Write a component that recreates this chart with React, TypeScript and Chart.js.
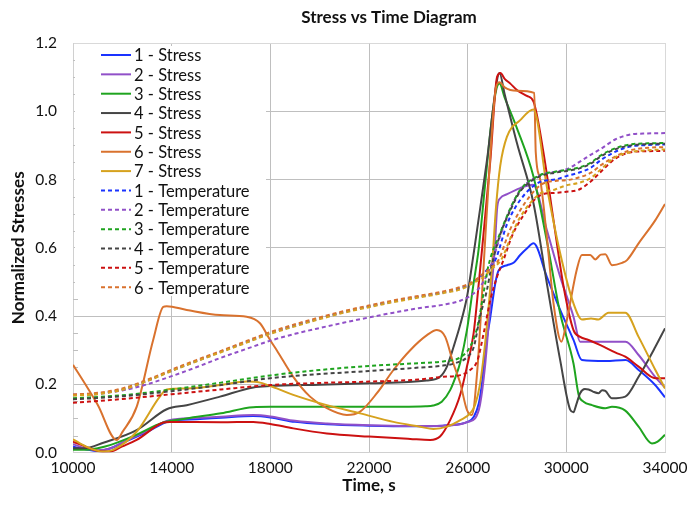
import React, { useEffect, useRef } from 'react';
import { Chart, registerables } from 'chart.js';

Chart.register(...registerables);

const FONT = 'Lato, "Open Sans", sans-serif';

// ---- tick labels ----
const xTicks = [10000, 14000, 18000, 22000, 26000, 30000, 34000];
const yTicks = [0, 0.2, 0.4, 0.6, 0.8, 1.0, 1.2];

// ---- Stress series (time, normalized value) ----
const s1T = [10000, 10500, 11000, 11500, 12000, 13000, 13900, 15000, 16000, 17300, 18000, 19000, 20300, 22000, 23700, 25000, 25700, 26000, 26250, 26450, 26580, 26710, 26920, 27120, 27250, 27600, 27860, 28130, 28400, 28670, 29210, 29750, 30290, 30630, 31600, 32400, 32930, 33600, 34000];
const s1V = [0.017, 0.01, 0.005, 0.012, 0.028, 0.06, 0.092, 0.098, 0.102, 0.107, 0.103, 0.09, 0.083, 0.079, 0.077, 0.079, 0.084, 0.09, 0.105, 0.144, 0.203, 0.3, 0.398, 0.496, 0.533, 0.549, 0.556, 0.579, 0.598, 0.613, 0.515, 0.418, 0.33, 0.271, 0.268, 0.271, 0.242, 0.198, 0.162];

const s2T = [10000, 10500, 11000, 11500, 12000, 13000, 13900, 15000, 16000, 17300, 18000, 19000, 20300, 22000, 23700, 25000, 25700, 26000, 26300, 26500, 26700, 26900, 27100, 27200, 27320, 27600, 28130, 28650, 29210, 29750, 30290, 30560, 31600, 32400, 32930, 33600, 34000];
const s2V = [0.025, 0.012, 0.007, 0.012, 0.03, 0.063, 0.095, 0.101, 0.105, 0.11, 0.106, 0.093, 0.085, 0.08, 0.078, 0.079, 0.083, 0.09, 0.1, 0.14, 0.25, 0.42, 0.6, 0.72, 0.745, 0.757, 0.775, 0.785, 0.652, 0.515, 0.398, 0.325, 0.325, 0.325, 0.286, 0.222, 0.19];

const s3T = [10000, 10500, 11000, 11500, 12500, 13660, 14600, 16000, 17300, 18000, 20000, 22000, 24300, 24600, 24950, 25290, 25560, 25700, 25970, 26240, 26440, 26700, 26950, 27150, 27290, 27500, 28000, 28670, 29210, 29750, 30290, 30500, 30700, 31040, 31580, 31850, 32390, 32930, 33470, 33700, 34000];
const s3V = [0.008, 0.008, 0.013, 0.022, 0.05, 0.088, 0.1, 0.115, 0.133, 0.134, 0.134, 0.134, 0.136, 0.138, 0.149, 0.183, 0.232, 0.265, 0.359, 0.496, 0.593, 0.78, 0.96, 1.06, 1.081, 1.04, 0.95, 0.808, 0.62, 0.408, 0.261, 0.169, 0.149, 0.139, 0.13, 0.134, 0.123, 0.076, 0.027, 0.032, 0.052];

const s4T = [10000, 10500, 11230, 12580, 13800, 14610, 15960, 17310, 18000, 20000, 22000, 24340, 24880, 25160, 25430, 25700, 25970, 26170, 26380, 26780, 27190, 27290, 27500, 28000, 28670, 29210, 29750, 30160, 30290, 30400, 30560, 30750, 30900, 31100, 31310, 31450, 31580, 31850, 32390, 32930, 33610, 34000];
const s4V = [0.013, 0.013, 0.029, 0.066, 0.127, 0.139, 0.164, 0.191, 0.195, 0.199, 0.203, 0.211, 0.222, 0.252, 0.31, 0.375, 0.455, 0.547, 0.652, 0.855, 1.091, 1.112, 1.05, 0.906, 0.73, 0.496, 0.271, 0.125, 0.118, 0.14, 0.174, 0.186, 0.185, 0.178, 0.174, 0.183, 0.181, 0.159, 0.164, 0.222, 0.31, 0.364];

const s5T = [10000, 10500, 11000, 11500, 12000, 12580, 13660, 13930, 16000, 17310, 18000, 18930, 20290, 22000, 23670, 24480, 24880, 25290, 25700, 25970, 26240, 26450, 26580, 26920, 27190, 27330, 27500, 27730, 28000, 28400, 28670, 29080, 29480, 29890, 30290, 30560, 30900, 31380, 32000, 32390, 32930, 33610, 34000];
const s5V = [0.032, 0.018, 0.005, 0.003, 0.018, 0.037, 0.088, 0.09, 0.089, 0.09, 0.084, 0.071, 0.056, 0.047, 0.04, 0.037, 0.047, 0.095, 0.17, 0.252, 0.349, 0.496, 0.593, 0.857, 1.1, 1.112, 1.095, 1.081, 1.062, 1.045, 1.028, 0.876, 0.681, 0.486, 0.359, 0.339, 0.33, 0.315, 0.293, 0.281, 0.252, 0.218, 0.218];

const s6T = [10000, 10500, 11000, 11770, 12000, 12580, 13250, 13660, 13800, 14610, 15960, 17040, 17580, 17990, 18260, 18930, 19610, 20290, 21100, 21640, 22320, 22990, 23670, 24350, 24750, 25090, 25420, 25700, 25970, 26170, 26400, 26650, 26900, 27150, 27300, 27500, 28000, 28700, 28760, 28940, 29210, 29480, 29800, 30020, 30420, 30630, 30970, 31170, 31400, 31580, 31850, 32260, 32460, 32930, 33610, 34000];
const s6V = [0.257, 0.2, 0.14, 0.037, 0.06, 0.134, 0.33, 0.427, 0.429, 0.418, 0.403, 0.398, 0.379, 0.33, 0.3, 0.222, 0.164, 0.13, 0.11, 0.12, 0.174, 0.242, 0.3, 0.344, 0.359, 0.339, 0.261, 0.203, 0.125, 0.11, 0.25, 0.55, 0.85, 1.07, 1.085, 1.07, 1.06, 1.054, 0.88, 0.8, 0.632, 0.437, 0.325, 0.388, 0.535, 0.579, 0.579, 0.566, 0.58, 0.581, 0.549, 0.556, 0.564, 0.613, 0.681, 0.728];

const s7T = [10000, 10550, 11230, 11630, 12580, 13520, 13800, 14610, 15960, 17040, 17580, 18260, 18930, 20290, 21640, 22990, 24070, 24610, 25160, 25700, 26100, 26300, 26500, 26750, 27000, 27150, 27320, 27590, 28130, 28670, 29210, 29750, 30290, 30630, 31000, 31300, 31710, 32390, 32930, 33610, 34000];
const s7V = [0.039, 0.017, 0.003, 0.008, 0.061, 0.164, 0.185, 0.188, 0.198, 0.208, 0.205, 0.188, 0.169, 0.139, 0.115, 0.09, 0.076, 0.069, 0.076, 0.095, 0.115, 0.14, 0.2, 0.35, 0.56, 0.72, 0.84, 0.925, 0.974, 1.005, 0.779, 0.584, 0.437, 0.39, 0.393, 0.39, 0.41, 0.41, 0.339, 0.242, 0.188];

// ---- Temperature series ----
const t1T = [10000, 11000, 12000, 13000, 14000, 15000, 16000, 17000, 18000, 19000, 20000, 21000, 22000, 23000, 24000, 25000, 25700, 26240, 26650, 26900, 27120, 27600, 28130, 28940, 29550, 30000, 30500, 31000, 31400, 32000, 32600, 33300, 34000];
const t1V = [0.168, 0.172, 0.185, 0.21, 0.24, 0.268, 0.296, 0.323, 0.35, 0.372, 0.393, 0.412, 0.428, 0.443, 0.456, 0.469, 0.481, 0.5, 0.525, 0.545, 0.564, 0.67, 0.74, 0.793, 0.8, 0.81, 0.82, 0.835, 0.857, 0.882, 0.897, 0.901, 0.903];

const t2T = [10000, 11000, 12000, 13000, 14000, 15000, 16000, 17000, 18000, 19000, 20000, 21000, 22000, 23000, 24000, 25000, 25700, 26240, 26510, 26780, 27000, 27300, 27700, 28130, 28940, 29550, 30000, 30500, 31000, 31400, 32000, 32600, 33300, 34000];
const t2V = [0.17, 0.173, 0.182, 0.2, 0.224, 0.25, 0.278, 0.303, 0.328, 0.348, 0.365, 0.381, 0.396, 0.41, 0.423, 0.433, 0.445, 0.466, 0.486, 0.52, 0.56, 0.63, 0.71, 0.769, 0.813, 0.823, 0.83, 0.85, 0.873, 0.89, 0.918, 0.932, 0.935, 0.936];

const t3T = [10000, 12000, 14000, 16000, 18000, 20000, 22000, 24000, 25000, 25700, 26100, 26400, 26650, 26850, 27300, 27700, 28130, 28940, 29550, 30000, 30500, 31000, 31400, 32000, 32600, 33300, 34000];
const t3V = [0.159, 0.168, 0.185, 0.205, 0.226, 0.242, 0.254, 0.262, 0.267, 0.279, 0.31, 0.37, 0.47, 0.55, 0.64, 0.71, 0.769, 0.813, 0.823, 0.828, 0.835, 0.85, 0.871, 0.892, 0.903, 0.906, 0.907];

const t4T = [10000, 12000, 14000, 16000, 18000, 20000, 22000, 24000, 25000, 25500, 26000, 26250, 26500, 26780, 26950, 27300, 27700, 28130, 28940, 29550, 30000, 30500, 31000, 31400, 32000, 32600, 33300, 34000];
const t4V = [0.156, 0.165, 0.18, 0.198, 0.218, 0.23, 0.239, 0.249, 0.255, 0.262, 0.281, 0.31, 0.398, 0.476, 0.54, 0.635, 0.705, 0.765, 0.81, 0.82, 0.825, 0.832, 0.847, 0.868, 0.889, 0.9, 0.904, 0.905];

const t5T = [10000, 12000, 14000, 16000, 18000, 20000, 22000, 24000, 25000, 25700, 26100, 26400, 26650, 26920, 27190, 27450, 27800, 28130, 28940, 29550, 30000, 30500, 31000, 31400, 32000, 32600, 33300, 34000];
const t5V = [0.146, 0.157, 0.171, 0.185, 0.198, 0.204, 0.208, 0.214, 0.222, 0.227, 0.242, 0.271, 0.35, 0.447, 0.515, 0.564, 0.635, 0.68, 0.754, 0.761, 0.764, 0.77, 0.795, 0.823, 0.862, 0.88, 0.883, 0.884];

const t6T = [10000, 11000, 12000, 13000, 14000, 15000, 16000, 17000, 18000, 19000, 20000, 21000, 22000, 23000, 24000, 25000, 25700, 26240, 26650, 27000, 27250, 27700, 28130, 28940, 29550, 30000, 30500, 31000, 31400, 32000, 32600, 33300, 34000];
const t6V = [0.17, 0.175, 0.188, 0.213, 0.243, 0.271, 0.298, 0.326, 0.353, 0.376, 0.396, 0.415, 0.431, 0.446, 0.459, 0.472, 0.485, 0.502, 0.525, 0.545, 0.564, 0.65, 0.71, 0.783, 0.796, 0.798, 0.806, 0.82, 0.842, 0.868, 0.886, 0.893, 0.895];

const t7T = [10000, 11000, 12000, 13000, 14000, 15000, 16000, 17000, 18000, 19000, 20000, 21000, 22000, 23000, 24000, 25000, 25700, 26240, 26650, 27000, 27350, 27800, 28130, 28940, 29550, 30000, 30500, 31000, 31400, 32000, 32600, 33300, 34000];
const t7V = [0.167, 0.171, 0.184, 0.209, 0.239, 0.267, 0.294, 0.321, 0.348, 0.37, 0.391, 0.41, 0.426, 0.441, 0.454, 0.467, 0.478, 0.497, 0.515, 0.54, 0.564, 0.64, 0.69, 0.759, 0.771, 0.783, 0.79, 0.805, 0.83, 0.866, 0.88, 0.886, 0.888];

// ---- labels & styles ----
const seriesLabels = ['1 - Stress', '2 - Stress', '3 - Stress', '4 - Stress', '5 - Stress', '6 - Stress', '7 - Stress',
  '1 - Temperature', '2 - Temperature', '3 - Temperature', '4 - Temperature', '5 - Temperature', '6 - Temperature', '7 - Temperature'];
const seriesTimes = [s1T, s2T, s3T, s4T, s5T, s6T, s7T, t1T, t2T, t3T, t4T, t5T, t6T, t7T];
const seriesValues = [s1V, s2V, s3V, s4V, s5V, s6V, s7V, t1V, t2V, t3V, t4V, t5V, t6V, t7V];
const palette = ['#1a33ff', '#9150c8', '#1fa41f', '#454545', '#cc1111', '#d9722e', '#d6a21e'];
const LEGEND_COUNT = 13;

const decor = {
  id: 'decor',
  beforeDatasetsDraw(chart: any) {
    const { ctx, chartArea: a, scales } = chart;
    const y = scales.y;
    ctx.save();
    ctx.strokeStyle = '#bfbfbf';
    ctx.lineWidth = 1;
    for (let k = 1; k < 24; k++) {
      if (k % 4 === 0) continue;
      const py = Math.round(y.getPixelForValue(k * 0.05)) + 0.5;
      ctx.beginPath();
      ctx.moveTo(a.left, py);
      ctx.lineTo(a.left + 5, py);
      ctx.stroke();
    }
    ctx.fillStyle = '#ffffff';
    ctx.fillRect(a.left + 2, a.top + 3, 191, 250);
    const dsets = chart.data.datasets.slice(0, LEGEND_COUNT);
    dsets.forEach((ds: any, i: number) => {
      const cy = a.top + 12 + i * 19.35;
      ctx.strokeStyle = ds.borderColor;
      ctx.lineWidth = 2;
      ctx.setLineDash(ds.borderDash || []);
      ctx.beginPath();
      ctx.moveTo(a.left + 28, cy);
      ctx.lineTo(a.left + 58, cy);
      ctx.stroke();
      ctx.setLineDash([]);
      ctx.fillStyle = '#111';
      ctx.font = `16.5px ${FONT}`;
      ctx.textBaseline = 'middle';
      ctx.textAlign = 'left';
      ctx.fillText(ds.label, a.left + 61, cy + 1);
    });
    ctx.restore();
  },
  afterDraw(chart: any) {
    const { ctx } = chart;
    ctx.save();
    ctx.fillStyle = '#111';
    ctx.font = `bold 17px ${FONT}`;
    ctx.textAlign = 'center';
    ctx.textBaseline = 'middle';
    ctx.fillText('Stress vs Time Diagram', 389, 18);
    ctx.restore();
  },
};

export default function App() {
  const ref = useRef<HTMLCanvasElement>(null);
  useEffect(() => {
    if (!ref.current) return;
    const datasets = seriesLabels.map((label, i) => ({
      label,
      data: seriesTimes[i].map((t, j) => ({ x: t, y: seriesValues[i][j] })),
      borderColor: palette[i % 7],
      backgroundColor: palette[i % 7],
      borderWidth: 2,
      borderDash: i >= 7 ? [4, 3] : [],
      pointRadius: 0,
      fill: false,
      cubicInterpolationMode: 'monotone' as const,
      order: -i,
    }));
    const xMin = xTicks[0];
    const xMax = xTicks[xTicks.length - 1];
    const yMin = yTicks[0];
    const yMax = yTicks[yTicks.length - 1];
    const chart = new Chart(ref.current, {
      type: 'line',
      data: { datasets },
      options: {
        responsive: false,
        animation: false,
        devicePixelRatio: 1,
        layout: { padding: { top: 43, right: 22, left: 0, bottom: 0 } },
        plugins: { legend: { display: false }, title: { display: false }, tooltip: { enabled: false } },
        scales: {
          x: {
            type: 'linear',
            min: xMin,
            max: xMax,
            afterBuildTicks: (s: any) => { s.ticks = xTicks.map((v) => ({ value: v })); },
            ticks: {
              autoSkip: false,
              maxRotation: 0,
              padding: 6,
              color: '#111',
              font: { family: FONT, size: 15.5 },
              callback: (v: any) => String(v),
            },
            grid: {
              drawTicks: false,
              lineWidth: 1,
              color: (c: any) => (c.tick && (c.tick.value === xMin || c.tick.value === xMax) ? '#d9d9d9' : '#bfbfbf'),
            },
            border: { color: '#d0d0d0' },
            title: {
              display: true,
              text: 'Time, s',
              color: '#111',
              font: { family: FONT, size: 17, weight: 'bold' },
              padding: { top: 0, bottom: 14 },
            },
            afterFit: (s: any) => { s.height = 57.4; s.paddingLeft = 0; s.paddingRight = 0; },
          },
          y: {
            type: 'linear',
            min: yMin,
            max: yMax,
            afterBuildTicks: (s: any) => { s.ticks = yTicks.map((v) => ({ value: v })); },
            ticks: {
              autoSkip: false,
              padding: 16,
              color: '#111',
              font: { family: FONT, size: 15.5 },
              callback: (v: any) => Number(v).toFixed(1),
            },
            grid: {
              drawTicks: false,
              lineWidth: 1,
              color: (c: any) => (c.tick && (c.tick.value === yMax) ? '#d9d9d9' : (c.tick && c.tick.value === yMin ? '#d0d0d0' : '#bfbfbf')),
            },
            border: { color: '#d0d0d0' },
            title: {
              display: true,
              text: 'Normalized Stresses',
              color: '#111',
              font: { family: FONT, size: 17, weight: 'bold' },
              padding: { top: 8, bottom: 0 },
            },
            afterFit: (s: any) => { s.width = 73; s.paddingTop = 0; s.paddingBottom = 0; },
          },
        },
      } as any,
      plugins: [decor],
    });
    return () => chart.destroy();
  }, []);
  return (
    <div style={{ position: 'fixed', left: 0, top: 0, width: 687, height: 510, background: '#fff' }}>
      <canvas ref={ref} width={687} height={510} style={{ display: 'block' }} />
    </div>
  );
}
